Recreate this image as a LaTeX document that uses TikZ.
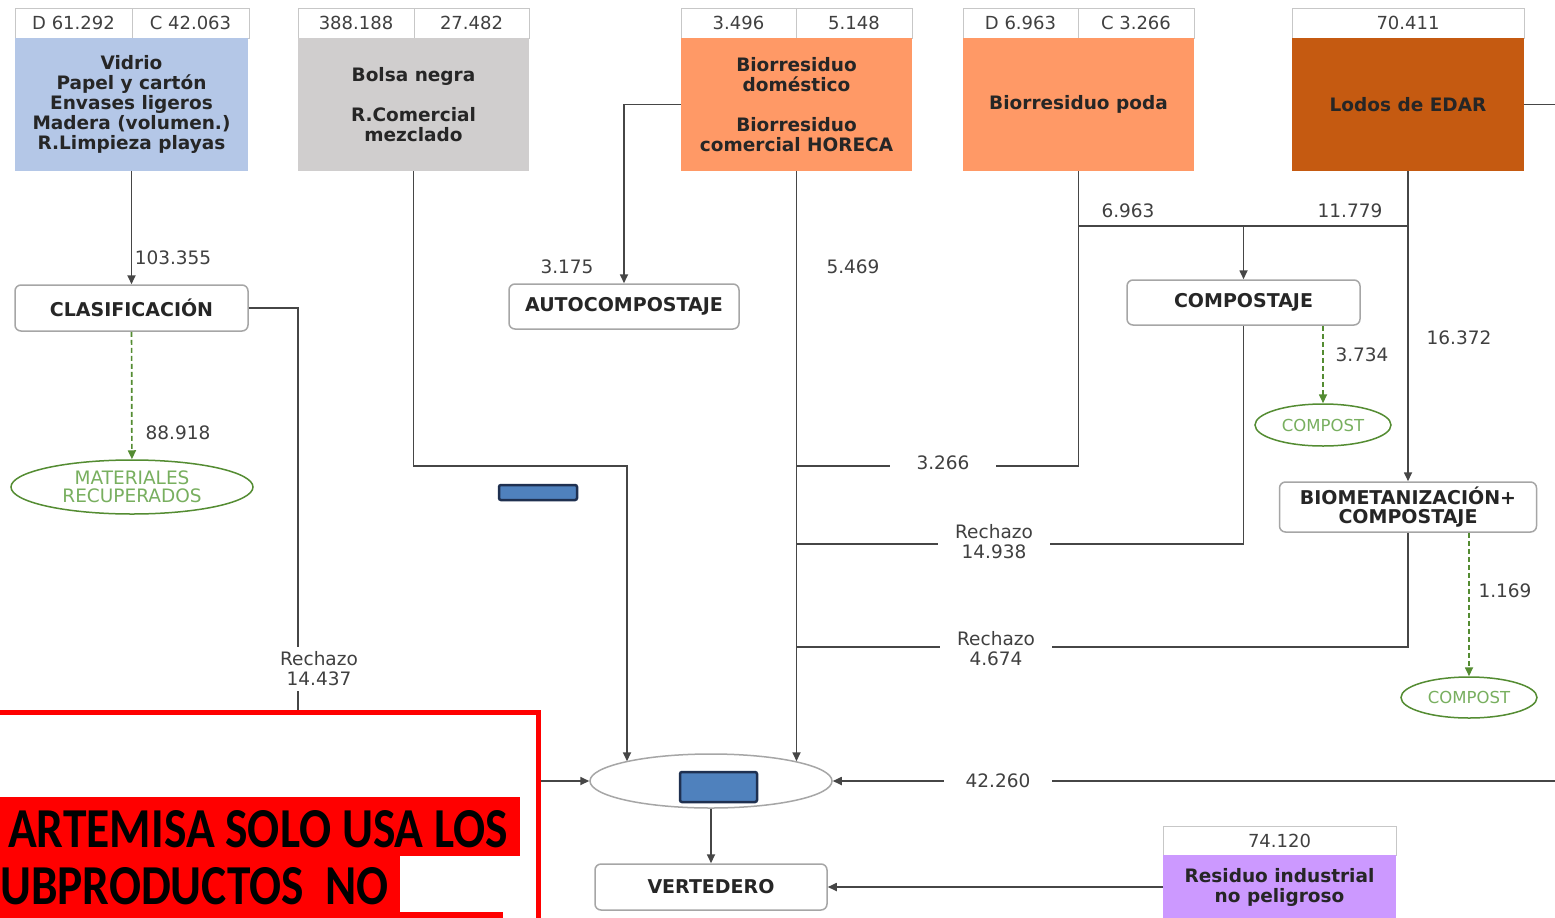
\documentclass[tikz,border=0pt]{standalone}
\usepackage{fontspec}
\setmainfont{DejaVu Sans}
\newfontfamily\calfont{Carlito}
\usetikzlibrary{arrows.meta,shapes.geometric}
\definecolor{cblue}{RGB}{180,199,231}
\definecolor{cgray}{RGB}{208,206,206}
\definecolor{corange}{RGB}{255,153,102}
\definecolor{cbrown}{RGB}{197,90,17}
\definecolor{cpurple}{RGB}{204,153,255}
\definecolor{cgreen}{RGB}{84,140,50}
\definecolor{cgtext}{RGB}{120,175,95}
\definecolor{cline}{RGB}{70,70,70}
\definecolor{credact}{RGB}{79,129,189}
\definecolor{cnavy}{RGB}{31,48,80}
\begin{document}
\begin{tikzpicture}[x=1pt,y=-1pt,
  hdr/.style={draw=black!22, line width=0.8pt, fill=white, minimum height=30pt, inner sep=0pt, font=\fontsize{18}{20}\selectfont, text=black!75},
  srcbox/.style={minimum height=133pt, inner sep=0pt, align=center, font=\bfseries\fontsize{18.5}{20}\selectfont, text=black!85},
  proc/.style={draw=black!35, line width=1.5pt, rounded corners=6pt, fill=white, inner sep=0pt, align=center, font=\bfseries\fontsize{19}{19.5}\selectfont, text=black!85},
  prod/.style={ellipse, draw=cgreen, line width=1.5pt, inner sep=0pt, align=center, text=cgtext, font=\fontsize{18.5}{18.5}\selectfont},
  lbl/.style={font=\fontsize{18.5}{20}\selectfont, text=black!75, align=center, inner sep=0pt},
  gap/.style={lbl, fill=white, inner xsep=17pt, inner ysep=3pt},
  arr/.style={-{Triangle[length=9pt,width=8pt]}},
  conn/.style={draw=cline, line width=1.7pt},
  gconn/.style={draw=cgreen, line width=1.7pt, dash pattern=on 5pt off 3pt, -{Triangle[length=9pt,width=8pt,fill=cgreen]}},
  redact/.style={fill=credact, draw=cnavy, line width=2.5pt, rounded corners=2pt}
]
\useasboundingbox (0,0) rectangle (1555,918);
\clip (0,0) rectangle (1555,918);
\fill[white] (0,0) rectangle (1555,918);

% ---------- source boxes ----------
\node[hdr, minimum width=117pt] (h1a) at (73.5,23) {D 61.292};
\node[hdr, minimum width=117pt] (h1b) at (190.5,23) {C 42.063};
\node[srcbox, fill=cblue, minimum width=233pt] (blue) at (131.5,104.5) {Vidrio\\Papel y cartón\\Envases ligeros\\Madera (volumen.)\\R.Limpieza playas};

\node[hdr, minimum width=116pt] (h2a) at (356,23) {388.188};
\node[hdr, minimum width=115pt] (h2b) at (471.5,23) {27.482};
\node[srcbox, fill=cgray, minimum width=231pt] (gray) at (413.5,104.5) {Bolsa negra\\[20pt]R.Comercial\\mezclado};

\node[hdr, minimum width=115pt] (h3a) at (738.5,23) {3.496};
\node[hdr, minimum width=116pt] (h3b) at (854,23) {5.148};
\node[srcbox, fill=corange, minimum width=231pt] (orng) at (796.5,104.5) {Biorresiduo\\doméstico\\[20pt]Biorresiduo\\comercial HORECA};

\node[hdr, minimum width=115pt] (h4a) at (1020.5,23) {D 6.963};
\node[hdr, minimum width=116pt] (h4b) at (1136,23) {C 3.266};
\node[srcbox, fill=corange, minimum width=231pt] (poda) at (1078.5,104.5) {Biorresiduo poda};

\node[hdr, minimum width=232pt] (h5) at (1408,23) {70.411};
\node[srcbox, fill=cbrown, minimum width=232pt] (lodos) at (1408,104.5) {Lodos de EDAR};

\node[hdr, minimum width=233pt, minimum height=29pt] (h6) at (1279.5,840.5) {74.120};
\node[srcbox, fill=cpurple, minimum width=233pt, minimum height=64pt] (purp) at (1279.5,887) {Residuo industrial\\no peligroso};

% ---------- process nodes ----------
\node[proc, minimum width=233pt, minimum height=46pt] (clas) at (131.5,308) {CLASIFICACIÓN};
\node[proc, minimum width=230pt, minimum height=45pt] (auto) at (624,306.5) {AUTOCOMPOSTAJE};
\node[proc, minimum width=233pt, minimum height=45pt] (comp) at (1243.5,302.5) {COMPOSTAJE};
\node[proc, minimum width=257pt, minimum height=50pt] (bio) at (1408,507) {BIOMETANIZACIÓN+\\COMPOSTAJE};
\node[proc, minimum width=232pt, minimum height=46pt] (vert) at (711,887) {VERTEDERO};
\node[ellipse, draw=black!35, line width=1.5pt, fill=white, minimum width=242pt, minimum height=54pt, inner sep=0pt] (ell) at (711,781) {};

% ---------- products ----------
\node[prod, minimum width=242pt, minimum height=54pt] (mat) at (132,487) {MATERIALES\\RECUPERADOS};
\node[prod, minimum width=136pt, minimum height=42pt, font=\fontsize{16.5}{18}\selectfont] (c1) at (1323,425) {COMPOST};
\node[prod, minimum width=136pt, minimum height=41pt, font=\fontsize{16.5}{18}\selectfont] (c2) at (1469,697.5) {COMPOST};

% ---------- junction coordinates ----------
\coordinate (g1) at (627,466);
\coordinate (j1) at (1078.5,226);
\coordinate (j2) at (1408,226);
\coordinate (jc) at (1243.5,226);
\coordinate (m1) at (796.5,466);
\coordinate (m2) at (796.5,544);
\coordinate (m3) at (796.5,647);
\coordinate (rl) at (298,781);
\coordinate (rr) at (1600,104.5);

% ---------- connectors ----------
\draw[conn,arr] (blue) -- (clas);
\draw[gconn] (clas) -- (mat);
\draw[conn,arr] (clas.east) -| (rl) -- (ell.west);
\draw[conn,arr] (gray.south) |- (g1) -- (g1 |- ell.167);
\draw[conn,arr] (orng.west) -| (auto.north);
\draw[conn,arr] (orng.south) -- (orng.south |- ell.13);
\draw[conn] (poda.south) |- (m1);
\draw[conn] (j1) -- (j2);
\draw[conn,arr] (jc) -- (comp.north);
\draw[conn,arr] (lodos.south) -- (bio.north);
\draw[conn,arr] (lodos.east) -- (rr) |- (ell.east);
\draw[conn] (comp.south) |- (m2);
\draw[gconn] (c1.north |- comp.south) -- (c1.north);
\draw[conn] (bio.south) |- (m3);
\draw[gconn] (c2.north |- bio.south) -- (c2.north);
\draw[conn,arr] (ell.south) -- (vert.north);
\draw[conn,arr] (vert.east -| purp.west) -- (vert.east);

% ---------- labels ----------
\node[lbl] (l1) at (173,258) {103.355};
\node[lbl] (l2) at (178,433) {88.918};
\node[lbl] (l3) at (567,267) {3.175};
\node[lbl] (l4) at (853,267) {5.469};
\node[lbl] (l5) at (1128,211) {6.963};
\node[lbl] (l6) at (1350,211) {11.779};
\node[lbl] (l7) at (1362,355) {3.734};
\node[lbl] (l8) at (1459,338) {16.372};
\node[lbl] (l9) at (1505,591) {1.169};
\node[gap, inner xsep=27pt] (l10) at (943,463) {3.266};
\node[gap] (l11) at (994,542) {Rechazo\\14.938};
\node[gap] (l12) at (996,649) {Rechazo\\4.674};
\node[gap, inner xsep=5pt, inner ysep=5pt] (l13) at (319,669) {Rechazo\\14.437};
\node[gap, inner xsep=22pt] (l14) at (998,781) {42.260};

% ---------- redaction overlays ----------
\draw[redact] (499,485) rectangle (577,500);
\draw[redact] (680,772) rectangle (757,802);

% ---------- red note ----------
\draw[red, line width=5pt, fill=white] (-10,712) rectangle (538,940);
\fill[red] (0,797) rectangle (520,856);
\fill[red] (0,856) rectangle (400,918);
\fill[red] (0,912) rectangle (503,930);
\node[anchor=south west, inner sep=0pt] (t1) at (8,848) {\resizebox{500pt}{37pt}{\calfont\bfseries ARTEMISA SOLO USA LOS}};
\node[anchor=south west, inner sep=0pt] (t2) at (0,905) {\resizebox{388pt}{37pt}{\calfont\bfseries UBPRODUCTOS\ \ NO}};
\end{tikzpicture}
\end{document}
